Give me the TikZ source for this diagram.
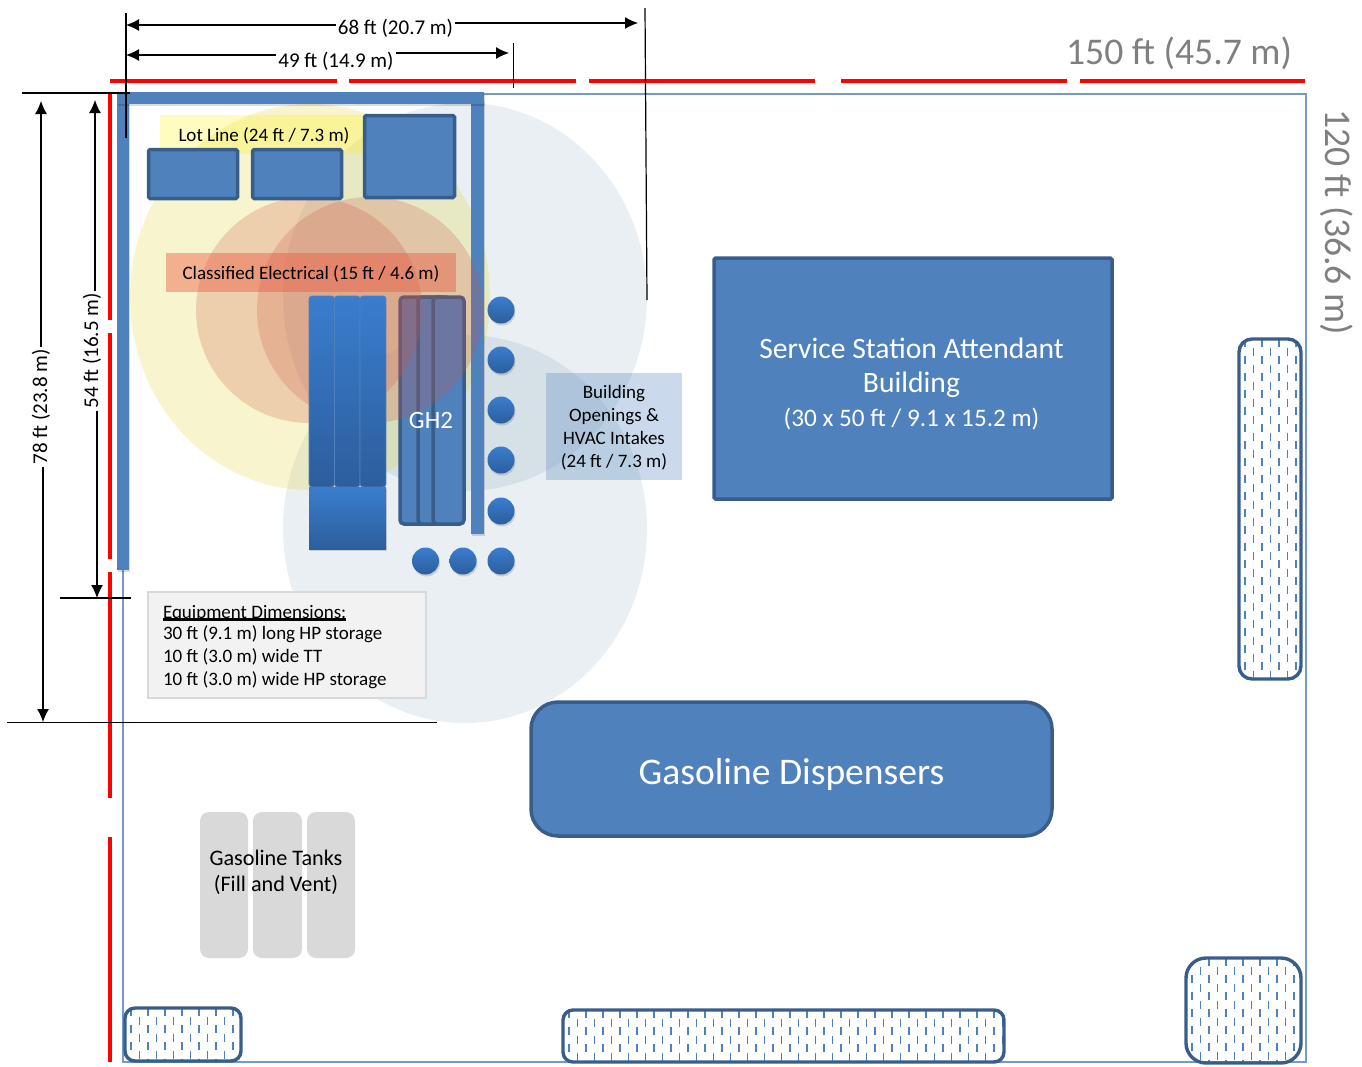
\documentclass[tikz,border=0pt]{standalone}
\usepackage{fontspec}
\setmainfont{Carlito}
\usetikzlibrary{arrows.meta,shadows}
\definecolor{wallblue}{HTML}{4F81BD}
\definecolor{edgeblue}{HTML}{385D8A}
\definecolor{zoneblue}{RGB}{40,100,130}
\definecolor{toptube}{HTML}{3A7DCE}
\definecolor{bottube}{HTML}{2C5E9C}
\definecolor{lotline}{HTML}{FF0000}
\definecolor{dimgray}{HTML}{7F7F7F}
\definecolor{tankgray}{HTML}{D9D9D9}
\definecolor{classred}{RGB}{235,85,60}
\definecolor{classzone}{RGB}{205,85,70}
\newcommand{\fs}[2]{\fontsize{#1}{#2}\selectfont}
\tikzset{
  x=1pt,y=-1pt,
  every node/.style={inner sep=0pt,outer sep=0pt},
  softshadow/.style={general shadow={shadow xshift=1pt,shadow yshift=-2pt,fill=black,opacity=.14}},
  zone/.style={fill=zoneblue,fill opacity=.1},
  yzone/.style={fill=yellow!85!black,fill opacity=.22},
  ozone/.style={fill=classzone,fill opacity=.24},
  redline/.style={draw=lotline,line width=4pt,softshadow},
  wall/.style={fill=wallblue,softshadow},
  block/.style={draw=edgeblue,fill=wallblue,line width=3.5pt,rounded corners=1.5pt},
  tube/.style={top color=toptube,bottom color=bottube,draw=wallblue,line width=.8pt,rounded corners=3pt},
  basetube/.style={top color=toptube,bottom color=bottube,softshadow},
  gh/.style={draw=edgeblue,fill=wallblue,line width=3.5pt,rounded corners=4pt},
  valve/.style={circle,minimum size=27pt,top color=toptube,bottom color=bottube,softshadow},
  tank/.style={fill=tankgray,rounded corners=9pt},
  hatchedge/.style={draw=edgeblue,line width=3.4pt},
  hatchline/.style={draw=wallblue,line width=1.7pt,dash pattern=on 8pt off 9pt},
  dimline/.style={draw=black,line width=1.2pt},
  dimarrow/.style={draw=black,line width=1.2pt,-{Latex[length=13pt,width=12pt]}},
  dimlabel/.style={font=\fs{21}{25},text=black,inner sep=2pt},
  biglabel/.style={font=\fs{37.7}{42},text=dimgray},
  small/.style={font=\fs{19}{23}},
}
% x1 y1 x2 y2 radius
\newcommand{\hatchbox}[5]{%
  \begin{scope}
    \clip[rounded corners=#5pt] (#1,#2) rectangle (#3,#4);
    \pgfmathtruncatemacro{\ncols}{(#3-#1)/8.5+1}
    \foreach \k in {0,...,\ncols}{
      \pgfmathsetmacro{\cx}{#1+6+8.5*\k}
      \pgfmathsetmacro{\phs}{iseven(\k)?0:8.5}
      \draw[hatchline,dash phase=\phs pt] (\cx,#2) -- (\cx,#4);
    }
  \end{scope}
  \draw[hatchedge,rounded corners=#5pt] (#1,#2) rectangle (#3,#4);
}
\begin{document}
\begin{tikzpicture}
\useasboundingbox (0,0) rectangle (1362,1066);
% zones
\fill[zone] (465,297) ellipse [x radius=182,y radius=194];
\fill[zone] (465,529) ellipse [x radius=182,y radius=194];
\fill[yzone] (310,297) ellipse [x radius=180,y radius=193];
% lot outline
\draw[draw=wallblue!80,line width=1.2pt] (123,94) rectangle (1306,1062);
% red lot lines
\foreach \a/\b in {110/337,349/576,589/815,841/1067,1080/1305}
  \draw[redline] (\a,81) -- (\b,81);
\foreach \a/\b in {94/320,333/559,572/798,837/1062}
  \draw[redline] (110,\a) -- (110,\b);
% GH2
\draw[gh] (400,297) rectangle (446,524);
\draw[gh] (418,297) rectangle (450,524);
\draw[gh] (433,297) rectangle (464,524);
% right wall
\fill[wall] (471,100) rectangle (484,534);
% classified zones
\fill[ozone] (309,310) circle [radius=113];
\fill[ozone] (370,310) circle [radius=113];
% walls
\fill[wall] (117,92) rectangle (129,570);
\fill[wall] (117,92) rectangle (484,104);
% labels
\node[fill=yellow,fill opacity=.25,text opacity=1,minimum width=203pt,minimum height=39pt] (lotrect) at (261.5,134) {};
\node[small] (lotlabel) at (264,136) {Lot Line (24 ft / 7.3 m)};
% equipment blocks
\node[block,minimum width=89pt,minimum height=49pt] (b1) at (193,174) {};
\node[block,minimum width=89pt,minimum height=49pt] (b2) at (297,174) {};
\node[block,minimum width=90pt,minimum height=82pt] (b3) at (409.5,156.5) {};
\node[fill=classred,fill opacity=.43,minimum width=290pt,minimum height=39pt] (classrect) at (311,272.5) {};
\node[small] (classlabel) at (311,274) {Classified Electrical (15 ft / 4.6 m)};
% storage tubes
\path[basetube] (309,487) rectangle (386,549);
\path[tube] (309,296) rectangle (334.5,487);
\path[tube] (334.5,296) rectangle (360,487);
\path[tube] (360,296) rectangle (386,487);
\node[text=white,font=\fs{25}{29}] (gh2) at (431,420) {GH2};
% valves
\foreach \n/\x/\y in {v1/501/310,v2/501/360,v3/501/410,v4/501/460,v5/501/511,v6/501/561,v7/463/561,v8/425.5/561}
  \node[valve] (\n) at (\x,\y) {};
\node[fill=wallblue,fill opacity=.3,minimum width=136pt,minimum height=107pt] (openrect) at (614,426.5) {};
\node[small,align=center] (openings) at (614,427.5) {Building\\Openings \&\\HVAC Intakes\\(24 ft / 7.3 m)};
% building
\node[block,minimum width=398pt,minimum height=241pt] (station) at (913,378.5) {};
\node[text=white,align=center,font=\fs{29.6}{34}] (stationlabel) at (911.5,384)
  {Service Station Attendant\\Building\\{\fs{25.2}{34}(30 x 50 ft / 9.1 x 15.2 m)}};
\node[draw=edgeblue,fill=wallblue,line width=3.5pt,rounded corners=27pt,minimum width=521pt,minimum height=134pt] (pumps) at (791.5,769) {};
\node[text=white,font=\fs{37.6}{42}] (pumpslabel) at (791.5,774) {Gasoline Dispensers};
% tanks
\node[tank,minimum width=48pt,minimum height=146pt] (t1) at (224,885) {};
\node[tank,minimum width=49pt,minimum height=146pt] (t2) at (277.5,885) {};
\node[tank,minimum width=48pt,minimum height=146pt] (t3) at (331,885) {};
\node[font=\fs{22.2}{26},align=center] (tanklabel) at (276,872) {Gasoline Tanks\\(Fill and Vent)};
% hatched areas
\hatchbox{1239}{339}{1301}{679}{13}
\hatchbox{125}{1008}{241}{1061}{10}
\hatchbox{563}{1010}{1004}{1062}{10}
\hatchbox{1186}{958}{1301}{1063}{20}
% equipment dimensions
\node[fill=black!5,draw=black!15,line width=1.5pt,minimum width=278pt,minimum height=106pt] (eqbox) at (287,645) {};
\node[anchor=base west,small] (eq0) at (163,618) {Equipment Dimensions:};
\node[anchor=base west,small] (eq1) at (163,639) {30 ft (9.1 m) long HP storage};
\node[anchor=base west,small] (eq2) at (163,662) {10 ft (3.0 m) wide TT};
\node[anchor=base west,small] (eq3) at (163,685) {10 ft (3.0 m) wide HP storage};
\coordinate (ul1) at (163,619.5); \coordinate (ul2) at (346,619.5);
\draw[draw=black,line width=2.4pt] (ul1) -- (ul2);
% dimension lines
\coordinate (tickA1) at (126,13);  \coordinate (tickA2) at (126,138);
\coordinate (tickB1) at (513.5,43);\coordinate (tickB2) at (513.5,88);
\coordinate (tickC1) at (645,8);   \coordinate (tickC2) at (647,300);
\coordinate (h1a) at (22,93);  \coordinate (h1b) at (130,93);
\coordinate (h2a) at (60,598); \coordinate (h2b) at (131,598);
\coordinate (h3a) at (7,722.5);\coordinate (h3b) at (437,722.5);
\draw[dimline] (tickA1) -- (tickA2);
\draw[dimline] (tickB1) -- (tickB2);
\draw[dimline] (tickC1) -- (tickC2);
\draw[dimline] (h1a) -- (h1b);
\draw[dimline] (h2a) -- (h2b);
\draw[dimline] (h3a) -- (h3b);
\node[dimlabel] (d68) at (395.5,28) {68 ft (20.7 m)};
\node[dimlabel] (d49) at (336,61) {49 ft (14.9 m)};
\node[dimlabel,rotate=90] (d78) at (41,407) {78 ft (23.8 m)};
\node[dimlabel,rotate=90] (d54) at (92,351) {54 ft (16.5 m)};
\coordinate (a68l) at (126,25); \coordinate (a68r) at (638,23);
\coordinate (a49l) at (126,55); \coordinate (a49r) at (509,53);
\coordinate (a78t) at (41,101); \coordinate (a78b) at (43,722);
\coordinate (a54t) at (95,100); \coordinate (a54b) at (97,598);
\draw[dimarrow] (d68.west|-a68l) -- (a68l);
\draw[dimarrow] (d68.east|-a68r) -- (a68r);
\draw[dimarrow] (d49.west|-a49l) -- (a49l);
\draw[dimarrow] (d49.east|-a49r) -- (a49r);
\draw[dimarrow] (a78t|-d78.east) -- (a78t);
\draw[dimarrow] (a78b|-d78.west) -- (a78b);
\draw[dimarrow] (a54t|-d54.east) -- (a54t);
\draw[dimarrow] (a54b|-d54.west) -- (a54b);
% overall sizes
\node[biglabel] (w150) at (1179,53) {150 ft (45.7 m)};
\node[biglabel,rotate=-90] (h120) at (1337,222) {120 ft (36.6 m)};
\end{tikzpicture}
\end{document}
